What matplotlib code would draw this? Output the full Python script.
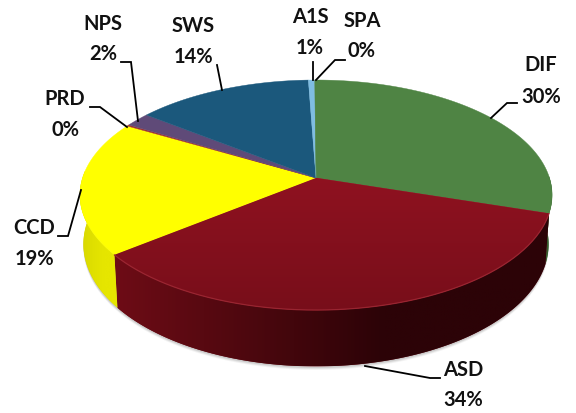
import numpy as np
import matplotlib
matplotlib.use("Agg")
import matplotlib.pyplot as plt
from matplotlib.patches import Polygon
from matplotlib.colors import to_rgb, LinearSegmentedColormap

# Data, clockwise from 12 o'clock
categories = ["DIF", "ASD", "CCD", "PRD", "NPS", "SWS", "A1S", "SPA"]
values = [30.0, 34.6, 19.0, 0.2, 2.0, 14.0, 0.5, 0.1]
percent_labels = ["30%", "34%", "19%", "0%", "2%", "14%", "1%", "0%"]
top_colors = ["#4f8444", "#8e1220", "#ffff00", "#a03030", "#5f4a78", "#1b587c", "#7fbde2", "#4f8444"]
side_colors = {"DIF": ("#3f6b36", "#2f5528"), "ASD": ("#6e0c16", "#2c0307"),
               "CCD": ("#d8d800", "#e6e600")}

plt.rcParams["font.family"] = ["Lato", "DejaVu Sans"]
fig = plt.figure(figsize=(5.76, 4.13), dpi=100)
ax = fig.add_axes([0, 0, 1, 1])
ax.set_xlim(0, 576)
ax.set_ylim(413, 0)
ax.axis("off")

# perspective projection of a unit disc
CX, CY, A, B, P, DEPTH = 316.0, 178.0, 233.5, 112.5, 0.148, 48.0

def proj(theta, r=1.0, depth=False):
    x, y = r * np.cos(theta), r * np.sin(theta)
    w = 1 + P * y
    X, Y = CX + A * x / w, CY - B * y / w
    if depth:
        X = CX + (X - CX) * 0.985
        Y = Y + DEPTH / w
    return X, Y

vals = np.array(values)
edges = np.pi / 2 - 2 * np.pi * np.concatenate([[0], np.cumsum(vals)]) / vals.sum()

def arc(a0, a1, depth=False):
    t = np.linspace(a0, a1, max(3, int(abs(a1 - a0) * 80)))
    return np.column_stack(proj(t, depth=depth))

# soft shadow under the lower rim
t_all = np.linspace(-np.pi * 1.02, np.pi * 0.02, 200)
for off, alpha in [(3.5, 0.08), (2.5, 0.12), (1.5, 0.16)]:
    pts = np.column_stack(proj(t_all, depth=True))
    pts[:, 1] += off
    ax.add_patch(Polygon(pts, closed=True, fc="#606060", ec="none", alpha=alpha, zorder=1))

# side walls with a left-to-right shade
for name, a0, a1 in zip(categories, edges[:-1], edges[1:]):
    lo, hi = max(a1, -np.pi * 1.0), min(a0, 0.02)
    if name == "CCD":
        lo = -np.pi * 1.02
    if name not in side_colors or lo >= hi:
        continue
    pts = np.vstack([arc(lo, hi), arc(lo, hi, depth=True)[::-1]])
    patch = Polygon(pts, closed=True, fc=side_colors[name][0], ec="none", zorder=2)
    ax.add_patch(patch)
    stops = [(0, side_colors[name][0]), (0.62, side_colors[name][1]), (1, side_colors[name][1])]
    cm = LinearSegmentedColormap.from_list(name, stops)
    im = ax.imshow(np.linspace(0, 1, 256)[None, :], cmap=cm, aspect="auto", zorder=2.1,
                   extent=(pts[:, 0].min(), pts[:, 0].max(), pts[:, 1].max(), pts[:, 1].min()))
    im.set_clip_path(patch)

# top faces
grad = LinearSegmentedColormap.from_list("asd", ["#8f1220", "#780e1a"])
for i, (a0, a1) in enumerate(zip(edges[:-1], edges[1:])):
    pts = np.vstack([[CX, CY], arc(a0, a1)])
    patch = Polygon(pts, closed=True, fc=top_colors[i], ec=top_colors[i], lw=0.3, zorder=3)
    ax.add_patch(patch)
    if categories[i] == "ASD":
        im = ax.imshow(np.linspace(0, 1, 256)[:, None], cmap=grad, aspect="auto",
                       extent=(pts[:, 0].min(), pts[:, 0].max(), pts[:, 1].max(), pts[:, 1].min()),
                       zorder=3.1)
        im.set_clip_path(patch)
        rim = arc(a0, a1)
        ax.plot(rim[:, 0], rim[:, 1], color="#a02a36", lw=0.9, alpha=0.8, zorder=3.2)
ax.set_xlim(0, 576)
ax.set_ylim(413, 0)

# labels: category, percent, leader line
label_pos = {
    "DIF": (541, 65, 97), "ASD": (463, 370, 400), "CCD": (34, 228, 259), "PRD": (65, 99, 130),
    "NPS": (103, 24, 54), "SWS": (193, 26, 57), "A1S": (310, 17, 48), "SPA": (362, 21, 51),
}
leaders = {
    "DIF": [(517, 103), (507, 103), (491, 118)],
    "ASD": [(440, 378), (430, 378), (365, 366)],
    "CCD": [(58, 236), (68, 236), (81, 190)],
    "PRD": [(90, 107), (100, 107), (127, 127)],
    "NPS": [(121, 62), (131, 62), (138, 121)],
    "SWS": [(217, 65), (222, 90)],
    "A1S": [(313, 62), (313, 80)],
    "SPA": [(345, 60), (335, 60), (316, 80)],
}
for name, pct in zip(categories, percent_labels):
    x, y1, y2 = label_pos[name]
    for s, y in ((name, y1), (pct, y2)):
        ax.text(x, y, s, ha="center", va="center", fontsize=14.5, fontweight="bold",
                color="#111111", zorder=6)
    lx, ly = zip(*leaders[name])
    ax.plot(lx, ly, color="black", lw=1.3, zorder=5, solid_joinstyle="miter")

fig.savefig("out.png", dpi=100)
